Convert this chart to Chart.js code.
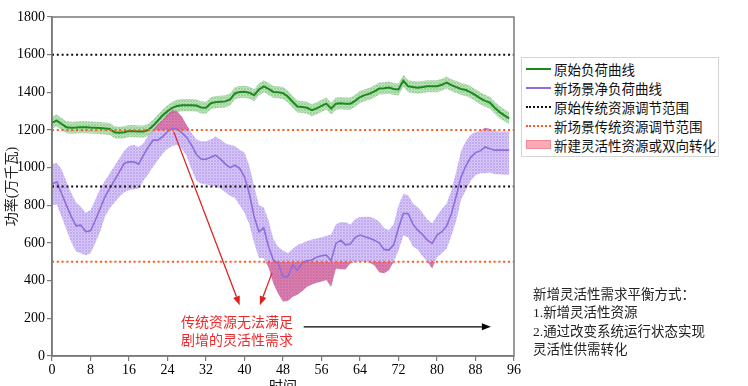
<!DOCTYPE html>
<html>
<head>
<meta charset="utf-8">
<script src="https://cdn.jsdelivr.net/npm/chart.js@4.4.0/dist/chart.umd.min.js"></script>
<style>
  html, body { margin: 0; padding: 0; background: #fff; overflow: hidden; }
  #wrap { position: relative; width: 748px; height: 400px; }
  #wrap canvas { position: absolute; left: 0; top: 0; }
  .cn { font-family: "Liberation Serif", "Noto Sans CJK SC", serif; position: absolute; white-space: nowrap; }
  #legend { left: 521px; top: 57px; width: 198px; height: 100px; border: 1px solid #d4d4d4; box-sizing: border-box; background: #fff; padding-top: 1px; }
  #legend .row { height: 19px; display: flex; align-items: center; font-size: 13.5px; color: #111; }
  #legend .sw { width: 25px; margin-left: 4px; margin-right: 3px; box-sizing: border-box; }
  #redNote { left: 181px; top: 314px; font-size: 14px; line-height: 18px; color: #ee2a2a; }
  #sideNote { left: 533px; top: 286px; font-size: 13.5px; line-height: 18.4px; color: #222; }
</style>
</head>
<body>
<div id="wrap">
  <canvas id="c" width="748" height="400"></canvas>
  <div id="legend" class="cn"></div>
  <div id="redNote" class="cn">传统资源无法满足<br>剧增的灵活性需求</div>
  <div id="sideNote" class="cn">新增灵活性需求平衡方式：<br>1.新增灵活性资源<br>2.通过改变系统运行状态实现<br>灵活性供需转化</div>
</div>
<script>
// ---- data (15-min steps, 0..95) ----
const times = Array.from({ length: 96 }, (_, i) => i);

const originalLoad = [
  1240, 1250, 1232, 1215, 1212, 1213, 1215, 1215, 1213, 1212,
  1210, 1208, 1205, 1188, 1185, 1188, 1195, 1194, 1192, 1192,
  1200, 1222, 1250, 1278, 1300, 1318, 1328, 1332, 1332, 1332,
  1330, 1320, 1318, 1342, 1348, 1350, 1352, 1362, 1395, 1402,
  1403, 1398, 1385, 1415, 1432, 1418, 1402, 1400, 1396, 1378,
  1350, 1325, 1322, 1318, 1305, 1315, 1328, 1340, 1314, 1340,
  1342, 1340, 1340, 1355, 1375, 1385, 1393, 1405, 1420, 1422,
  1425, 1418, 1415, 1461, 1432, 1428, 1425, 1428, 1432, 1432,
  1432, 1440, 1452, 1438, 1428, 1418, 1412, 1400, 1385, 1368,
  1355, 1345, 1318, 1295, 1278, 1262
];
const originalSpread = 32;

const netLoad = [
  912, 925, 863, 800, 740, 691, 695, 660, 665, 721,
  783, 845, 890, 934, 978, 1022, 1031, 1031, 1019, 1066,
  1110, 1146, 1146, 1165, 1192, 1208, 1205, 1185, 1160, 1120,
  1070, 1045, 1045, 1055, 1066, 1045, 1020, 1000, 1013, 996,
  951, 863, 740, 660, 680, 580, 509, 492, 421, 421,
  483, 456, 495, 505, 510, 525, 532, 536, 506, 598,
  615, 590, 594, 630, 642, 633, 625, 615, 600, 566,
  562, 590, 680, 757, 757, 700, 668, 645, 615, 598,
  642, 660, 690, 757, 850, 950, 1010, 1055, 1080, 1089,
  1110, 1100, 1093, 1093, 1093, 1093
];
const netUpper = [
  1020, 1025, 990, 925, 865, 815, 792, 760, 775, 830,
  890, 930, 970, 1010, 1050, 1090, 1115, 1120, 1110, 1130,
  1170, 1200, 1232, 1255, 1285, 1305, 1300, 1270, 1225, 1185,
  1150, 1140, 1140, 1150, 1165, 1150, 1130, 1120, 1115, 1095,
  1080, 1010, 900, 800, 790, 720, 620, 580, 560, 545,
  570, 590, 600, 610, 618, 624, 630, 638, 645, 700,
  712, 710, 698, 728, 738, 740, 740, 730, 713, 680,
  668, 700, 800, 860, 855, 810, 790, 760, 725, 705,
  745, 780, 810, 880, 980, 1090, 1140, 1175, 1190, 1195,
  1212, 1205, 1195, 1192, 1192, 1192
];
const netLower = [
  800, 805, 740, 670, 605, 555, 545, 535, 545, 600,
  660, 740, 785, 815, 845, 870, 880, 885, 890, 930,
  965, 1005, 1040, 1075, 1100, 1115, 1120, 1100, 1060, 990,
  930, 915, 910, 905, 900, 890, 870, 850, 840, 800,
  760, 700, 600, 520, 520, 470, 385, 330, 290, 292,
  315, 325, 345, 368, 380, 389, 395, 403, 368, 465,
  460, 460, 492, 500, 502, 500, 496, 480, 445, 440,
  455, 500, 560, 640, 630, 580, 565, 530, 500, 465,
  525, 545, 570, 640, 720, 830, 880, 930, 960, 970,
  970, 975, 965, 965, 962, 962
];

const originalRange = [900, 1600];   // 原始传统资源调节范围
const newRange = [500, 1200];        // 新场景传统资源调节范围

const labels = ['原始负荷曲线', '新场景净负荷曲线', '原始传统资源调节范围', '新场景传统资源调节范围', '新建灵活性资源或双向转化'];

const xTicks = { min: 0, max: 96, step: 8 };
const yTicks = { min: 0, max: 1800, step: 200 };

// ---- helpers ----
const pts = arr => arr.map((v, i) => ({ x: times[i], y: v }));
const hLine = v => [{ x: xTicks.min, y: v }, { x: xTicks.max, y: v }];

const canvas = document.getElementById('c');
const ctx = canvas.getContext('2d');

function hatch(base, grid) {
  const tile = document.createElement('canvas');
  tile.width = 3; tile.height = 3;
  const g = tile.getContext('2d');
  g.fillStyle = base; g.fillRect(0, 0, 3, 3);
  g.clearRect(0, 0, 3, 1); g.clearRect(0, 0, 1, 3);
  g.fillStyle = grid; g.fillRect(0, 0, 3, 1); g.fillRect(0, 0, 1, 3);
  return ctx.createPattern(tile, 'repeat');
}

const GREEN = '#1a8a1a';
const PURPLE = '#8f6ddb';
const ORANGE = '#ff5a1f';
const RED_FILL = 'rgba(225, 40, 80, 0.45)';
const greenHatch = hatch('rgba(95, 180, 95, 0.62)', 'rgba(130, 200, 130, 0.5)');
const purpleHatch = hatch('rgba(165, 130, 235, 0.68)', 'rgba(190, 165, 245, 0.6)');

const flat = { pointRadius: 0, borderWidth: 0, tension: 0 };

// arrows in data coordinates
const arrows = [
  { from: [25.3, 1190], to: [39, 270], color: '#dd2222' },
  { from: [45.7, 440], to: [43.2, 270], color: '#dd2222' },
  { from: [52.3, 155], to: [91.2, 155], color: '#000' }
];

const framePlugin = {
  id: 'frame',
  afterDatasetsDraw(chart) {
    const { ctx, chartArea: a, scales: { x, y } } = chart;
    ctx.save();
    ctx.strokeStyle = '#7a7a7a';
    ctx.lineWidth = 1.5;
    ctx.strokeRect(a.left, a.top, a.right - a.left, a.bottom - a.top);
    arrows.forEach(ar => {
      const x0 = x.getPixelForValue(ar.from[0]), y0 = y.getPixelForValue(ar.from[1]);
      const x1 = x.getPixelForValue(ar.to[0]), y1 = y.getPixelForValue(ar.to[1]);
      const ang = Math.atan2(y1 - y0, x1 - x0);
      const hl = 9, hw = 3.5;
      const bx = x1 - hl * Math.cos(ang), by = y1 - hl * Math.sin(ang);
      ctx.strokeStyle = ar.color; ctx.fillStyle = ar.color; ctx.lineWidth = 1.3;
      ctx.beginPath(); ctx.moveTo(x0, y0); ctx.lineTo(bx, by); ctx.stroke();
      ctx.beginPath();
      ctx.moveTo(x1, y1);
      ctx.lineTo(bx - hw * Math.sin(ang), by + hw * Math.cos(ang));
      ctx.lineTo(bx + hw * Math.sin(ang), by - hw * Math.cos(ang));
      ctx.closePath(); ctx.fill();
    });
    ctx.restore();
  }
};

const datasets = [
  // 0,1 green band
  { ...flat, data: pts(originalLoad.map(v => v + originalSpread)), backgroundColor: greenHatch, fill: 1, order: 10 },
  { ...flat, data: pts(originalLoad.map(v => v - originalSpread)), fill: false, order: 10 },
  // 2,3 purple band
  { ...flat, data: pts(netUpper), backgroundColor: purpleHatch, fill: 3, order: 8 },
  { ...flat, data: pts(netLower), fill: false, order: 8 },
  // 4,5 new flexible demand
  { ...flat, data: pts(netUpper), fill: { target: { value: newRange[1] }, above: RED_FILL, below: 'rgba(0,0,0,0)' }, order: 6 },
  { ...flat, data: pts(netLower), fill: { target: { value: newRange[0] }, above: 'rgba(0,0,0,0)', below: RED_FILL }, order: 6 },
  // 6,7 curves
  { label: labels[0], data: pts(originalLoad), borderColor: GREEN, borderWidth: 2, pointRadius: 0, fill: false, order: 4 },
  { label: labels[1], data: pts(netLoad), borderColor: PURPLE, borderWidth: 1.6, pointRadius: 0, fill: false, order: 3 },
  // 8-11 ranges
  { label: labels[2], data: hLine(originalRange[1]), borderColor: '#111', borderWidth: 2, borderDash: [2, 2.8], pointRadius: 0, fill: false, order: 1 },
  { data: hLine(originalRange[0]), borderColor: '#111', borderWidth: 2, borderDash: [2, 2.8], pointRadius: 0, fill: false, order: 1 },
  { label: labels[3], data: hLine(newRange[1]), borderColor: ORANGE, borderWidth: 2, borderDash: [2, 2.8], pointRadius: 0, fill: false, order: 1 },
  { data: hLine(newRange[0]), borderColor: ORANGE, borderWidth: 2, borderDash: [2, 2.8], pointRadius: 0, fill: false, order: 1 }
];

const tickFont = { family: '"Liberation Serif", "Noto Sans CJK SC", serif', size: 14 };

new Chart(ctx, {
  type: 'line',
  data: { datasets },
  options: {
    responsive: false,
    animation: false,
    events: [],
    layout: { padding: { top: 17, right: 234, bottom: 0, left: 0 } },
    plugins: { legend: { display: false }, tooltip: { enabled: false } },
    scales: {
      x: {
        type: 'linear', min: xTicks.min, max: xTicks.max,
        afterFit: s => { s.height = 44; },
        ticks: { stepSize: xTicks.step, autoSkip: false, maxRotation: 0, padding: 1, color: '#000', font: tickFont, callback: v => String(v) },
        grid: { drawOnChartArea: false, tickLength: 5, color: '#7a7a7a', lineWidth: 1.2 },
        border: { color: '#7a7a7a', width: 1.5 },
        title: { display: true, text: '时间', color: '#111', font: tickFont, padding: { top: 0, bottom: 4 } }
      },
      y: {
        min: yTicks.min, max: yTicks.max,
        afterFit: s => { s.width = 52; },
        ticks: { stepSize: yTicks.step, padding: 2, color: '#000', font: tickFont, callback: v => String(v) },
        grid: { drawOnChartArea: false, tickLength: 5, color: '#7a7a7a', lineWidth: 1.2 },
        border: { color: '#7a7a7a', width: 1.5 },
        title: { display: true, text: '功率(万千瓦)', color: '#222', font: tickFont, padding: { top: 4, bottom: 0 } }
      }
    }
  },
  plugins: [framePlugin]
});

// HTML legend
const legendEl = document.getElementById('legend');
const legendItems = [
  { text: labels[0], style: `border-top:2px solid ${GREEN}` },
  { text: labels[1], style: `border-top:2px solid ${PURPLE}` },
  { text: labels[2], style: 'border-top:2px dotted #111' },
  { text: labels[3], style: `border-top:2px dotted ${ORANGE}` },
  { text: labels[4], style: 'height:9px;background:#f9aab4;border:1px solid #f08a98' }
];
legendItems.forEach(it => {
  const row = document.createElement('div');
  row.className = 'row';
  row.innerHTML = `<span class="sw" style="${it.style}"></span><span>${it.text}</span>`;
  legendEl.appendChild(row);
});
</script>
</body>
</html>
